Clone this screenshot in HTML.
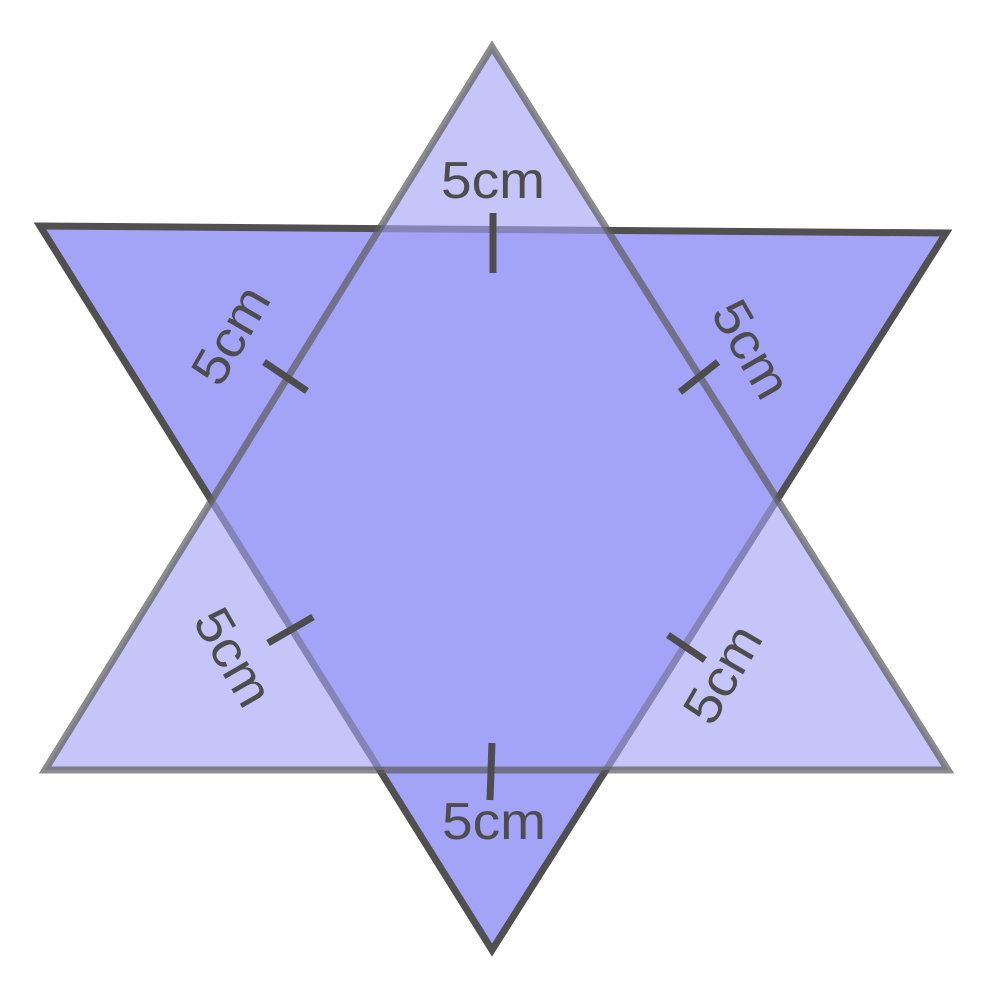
<!DOCTYPE html>
<html><head><style>html,body{margin:0;padding:0;background:#fff}svg{display:block}</style></head>
<body>
<svg width="992" height="987" viewBox="0 0 992 987" xmlns="http://www.w3.org/2000/svg">
<polygon points="40,226 946,233 492,950" fill="#a3a3f7" stroke="#505050" stroke-width="7" stroke-linejoin="miter"/>
<polygon points="492,47 948,770 45,770" fill="rgba(163,163,247,0.63)" stroke="rgba(91,91,91,0.7)" stroke-width="7"/>
<g stroke="#4d4d4d" stroke-width="7">
<line x1="493" y1="213" x2="493" y2="273"/>
<line x1="492" y1="743" x2="490" y2="800"/>
<line x1="264" y1="362" x2="307" y2="391"/>
<line x1="680" y1="392" x2="718" y2="362"/>
<line x1="268" y1="643" x2="313" y2="617"/>
<line x1="668" y1="635" x2="705" y2="660"/>
</g>
<g font-family="'Liberation Sans',sans-serif" font-size="52" fill="#4d4d4d" text-anchor="middle">
<text x="493" y="198" textLength="104" lengthAdjust="spacingAndGlyphs">5cm</text>
<text x="494" y="839" textLength="104" lengthAdjust="spacingAndGlyphs">5cm</text>
<text transform="translate(246,344) rotate(-60)" textLength="104" lengthAdjust="spacingAndGlyphs">5cm</text>
<text transform="translate(736,358) rotate(60)" textLength="104" lengthAdjust="spacingAndGlyphs">5cm</text>
<text transform="translate(218,666) rotate(60)" textLength="104" lengthAdjust="spacingAndGlyphs">5cm</text>
<text transform="translate(738,683) rotate(-60)" textLength="104" lengthAdjust="spacingAndGlyphs">5cm</text>
</g>
</svg>
</body></html>
